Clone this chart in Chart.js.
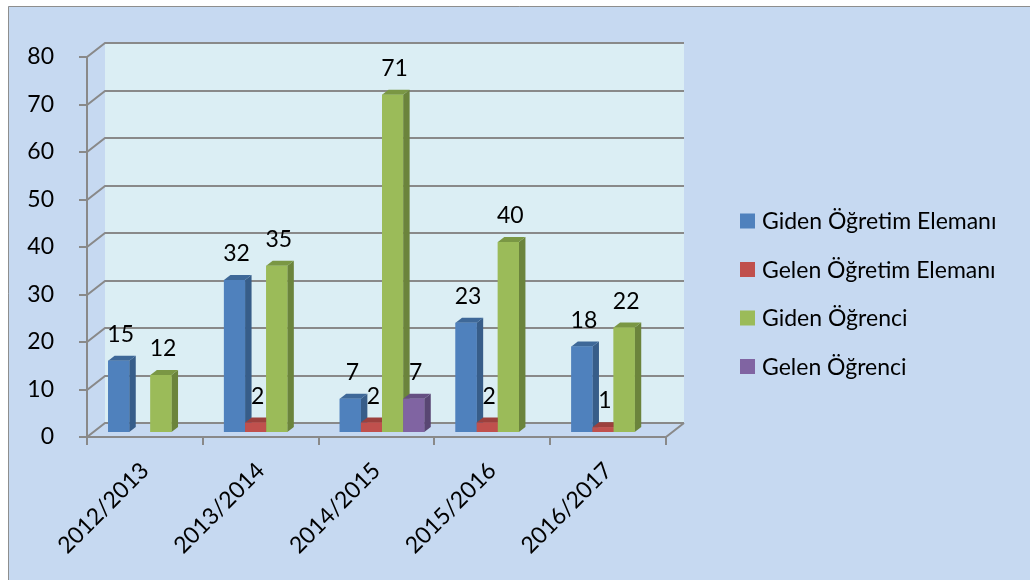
<!DOCTYPE html>
<html>
<head>
<meta charset="utf-8">
<script src="https://cdn.jsdelivr.net/npm/chart.js@4"></script>
<style>
  html, body { margin: 0; background: #fff; }
  canvas { display: block; }
</style>
</head>
<body>
<canvas id="chart" width="1030" height="580"></canvas>
<script>
const years = ['2012/2013', '2013/2014', '2014/2015', '2015/2016', '2016/2017'];
const gidenEleman = [15, 32, 7, 23, 18];
const gelenEleman = [0, 2, 2, 2, 1];
const gidenOgrenci = [12, 35, 71, 40, 22];
const gelenOgrenci = [0, 0, 7, 0, 0];
const yMax = 80;
const yStep = 10;

// 3d look: wall depth, bar plane shift, bar depth
const WALL_DX = 18, WALL_DY = -14;
const SHIFT_X = 5.5, SHIFT_Y = -5;
const BAR_DX = 6.5, BAR_DY = -5;
const FONT = 'Lato';
const FONT_SIZE = 23;

function poly(ctx, pts, color) {
    ctx.fillStyle = color;
    ctx.beginPath();
    ctx.moveTo(pts[0][0], pts[0][1]);
    for (let i = 1; i < pts.length; i++) ctx.lineTo(pts[i][0], pts[i][1]);
    ctx.closePath();
    ctx.fill();
}

const threeD = {
    id: 'threeD',
    beforeDraw(chart) {
        const { ctx, chartArea: a, scales: { x, y } } = chart;
        ctx.save();
        ctx.fillStyle = '#fff';
        ctx.fillRect(0, 0, chart.width, chart.height);
        ctx.fillStyle = '#C6D9F1';
        ctx.fillRect(8, 6, chart.width - 8, chart.height - 6);
        ctx.strokeStyle = '#8E8E8E';
        ctx.lineWidth = 1;
        ctx.beginPath();
        ctx.moveTo(8.5, chart.height);
        ctx.lineTo(8.5, 6.5);
        ctx.lineTo(chart.width, 6.5);
        ctx.stroke();

        // back wall
        ctx.fillStyle = '#DBEEF4';
        ctx.fillRect(a.left + WALL_DX, a.top + WALL_DY, a.width, a.height);

        // grid lines, running over the side wall and the back wall
        ctx.strokeStyle = '#898989';
        ctx.lineWidth = 2;
        y.ticks.forEach(t => {
            const py = Math.round(y.getPixelForValue(t.value));
            ctx.beginPath();
            ctx.moveTo(a.left - 8, py);
            ctx.lineTo(a.left, py);
            ctx.lineTo(a.left + WALL_DX, py + WALL_DY);
            ctx.lineTo(a.right + WALL_DX, py + WALL_DY);
            ctx.stroke();
        });

        // axis lines and floor edge
        ctx.beginPath();
        ctx.moveTo(a.left, a.top);
        ctx.lineTo(a.left, a.bottom);
        ctx.lineTo(a.right, a.bottom);
        ctx.lineTo(a.right + WALL_DX, a.bottom + WALL_DY);
        ctx.stroke();
        for (let i = 0; i <= years.length; i++) {
            const px = Math.round(x.getPixelForValue(i - 0.5));
            ctx.beginPath();
            ctx.moveTo(px, a.bottom);
            ctx.lineTo(px, a.bottom + 8);
            ctx.stroke();
        }
        ctx.restore();
    },
    beforeDatasetsDraw(chart) {
        chart.ctx.save();
        chart.ctx.translate(SHIFT_X, SHIFT_Y);
    },
    afterDatasetsDraw(chart) {
        const ctx = chart.ctx;
        const sets = chart.data.datasets;
        // redraw bars left to right so each front hides its neighbour's side
        for (let i = 0; i < years.length; i++) {
            sets.forEach((ds, d) => {
                if (!ds.data[i]) return;
                const bar = chart.getDatasetMeta(d).data[i];
                const l = bar.x - bar.width / 2, r = bar.x + bar.width / 2;
                const t = bar.y, b = bar.base;
                poly(ctx, [[r, t], [r + BAR_DX, t + BAR_DY], [r + BAR_DX, b + BAR_DY], [r, b]], ds.sideColor);
                poly(ctx, [[l, t], [l + BAR_DX, t + BAR_DY], [r + BAR_DX, t + BAR_DY], [r, t]], ds.topColor);
                ctx.fillStyle = ds.backgroundColor;
                ctx.fillRect(l, t, r - l, b - t);
            });
        }
        // value labels
        ctx.fillStyle = '#000';
        ctx.font = FONT_SIZE + 'px ' + FONT;
        ctx.textAlign = 'center';
        ctx.textBaseline = 'alphabetic';
        sets.forEach((ds, d) => {
            chart.getDatasetMeta(d).data.forEach((bar, i) => {
                if (!ds.data[i]) return;
                ctx.fillText(String(ds.data[i]), bar.x + 2, bar.y - 19);
            });
        });
        ctx.restore();
    },
    afterDraw(chart) {
        const ctx = chart.ctx;
        ctx.save();
        ctx.font = FONT_SIZE + 'px ' + FONT;
        ctx.textAlign = 'left';
        ctx.textBaseline = 'alphabetic';
        chart.data.datasets.forEach((ds, i) => {
            const cy = 221 + i * 48.5;
            ctx.fillStyle = ds.backgroundColor;
            ctx.fillRect(740, cy - 7.5, 15, 15);
            ctx.fillStyle = '#000';
            ctx.fillText(ds.label, 762, cy + 8);
        });
        ctx.restore();
    }
};

new Chart(document.getElementById('chart'), {
    type: 'bar',
    data: {
        labels: years,
        datasets: [
            { label: 'Giden Öğretim Elemanı', data: gidenEleman, backgroundColor: '#4F81BD', sideColor: '#375D89', topColor: '#3E6898' },
            { label: 'Gelen Öğretim Elemanı', data: gelenEleman, backgroundColor: '#C0504D', sideColor: '#8C3937', topColor: '#9C403D' },
            { label: 'Giden Öğrenci', data: gidenOgrenci, backgroundColor: '#9BBB59', sideColor: '#6B843C', topColor: '#7A9744' },
            { label: 'Gelen Öğrenci', data: gelenOgrenci, backgroundColor: '#8064A2', sideColor: '#594673', topColor: '#654F82' }
        ]
    },
    options: {
        responsive: false,
        animation: false,
        layout: { padding: { top: 57, right: 364, left: 0, bottom: 0 } },
        datasets: { bar: { categoryPercentage: 0.73, barPercentage: 1.0 } },
        plugins: { legend: { display: false }, tooltip: { enabled: false } },
        scales: {
            x: {
                grid: { display: false },
                border: { display: false },
                ticks: { color: '#000', font: { family: FONT, size: FONT_SIZE }, minRotation: 45, maxRotation: 45, padding: 12 },
                afterFit: s => { s.height = 143; }
            },
            y: {
                min: 0,
                max: yMax,
                grid: { display: false },
                border: { display: false },
                ticks: { stepSize: yStep, color: '#000', font: { family: FONT, size: FONT_SIZE }, padding: 25 },
                afterFit: s => { s.width = 87; }
            }
        }
    },
    plugins: [threeD]
});
</script>
</body>
</html>
